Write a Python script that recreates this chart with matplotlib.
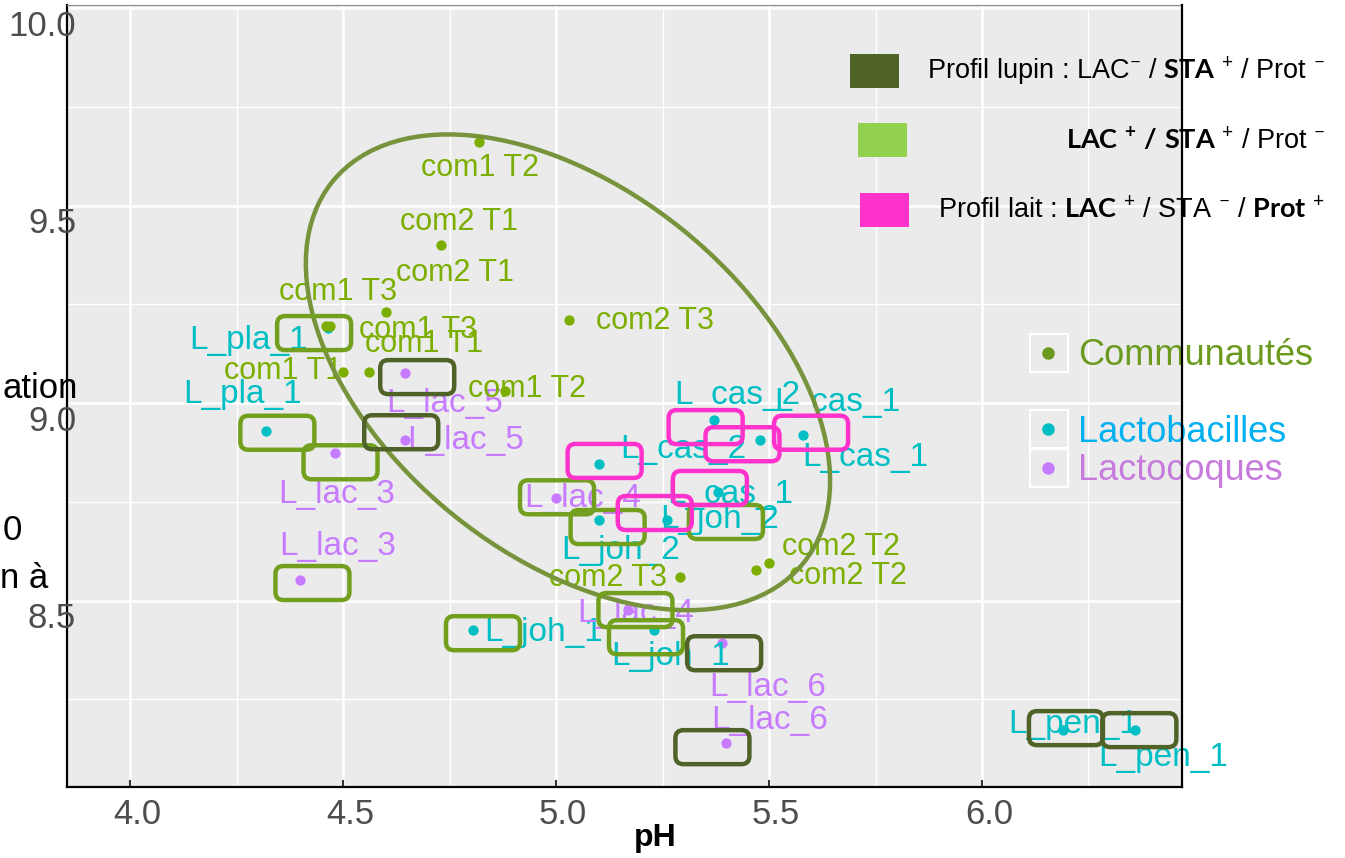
import matplotlib.pyplot as plt
from matplotlib.patches import FancyBboxPatch, Ellipse, Rectangle
from matplotlib.lines import Line2D
from matplotlib.transforms import ScaledTranslation, blended_transform_factory

W, H = 1345, 858

# ---- values ----
com_labels = ['com1 T2', 'com2 T1', 'com2 T1', 'com1 T3', 'com1 T3', 'com1 T1',
              'com1 T1', 'com1 T2', 'com2 T3', 'com2 T3', 'com2 T2', 'com2 T2']
com_ph = [4.82, 4.73, 4.60, 4.47, 4.46, 4.50, 4.56, 4.88, 5.03, 5.29, 5.50, 5.47]
com_y = [9.66, 9.40, 9.23, 9.195, 9.195, 9.08, 9.08, 9.03, 9.21, 8.56, 8.595, 8.577]

lb_labels = ['L_pla_1', 'L_pla_1', 'L_cas_2', 'L_cas_1', 'L_cas_1', 'L_cas_2', 'L_cas_1',
             'L_joh_2', 'L_joh_2', 'L_joh_1', 'L_joh_1', 'L_pen_1', 'L_pen_1']
lb_ph = [4.465, 4.32, 5.37, 5.58, 5.48, 5.10, 5.38, 5.26, 5.10, 4.805, 5.23, 6.19, 6.36]
lb_y = [9.19, 8.93, 8.957, 8.92, 8.906, 8.846, 8.775, 8.704, 8.704, 8.425, 8.425, 8.172, 8.172]

lc_labels = ['L_lac_5', 'L_lac_5', 'L_lac_3', 'L_lac_3', 'L_lac_4', 'L_lac_4', 'L_lac_6', 'L_lac_6']
lc_ph = [4.646, 4.646, 4.48, 4.40, 5.00, 5.17, 5.39, 5.40]
lc_y = [9.076, 8.906, 8.873, 8.552, 8.759, 8.476, 8.392, 8.139]

# profile boxes drawn over the strains: group, index in group, profile
box_group = ['lb', 'lb', 'lc', 'lc', 'lc', 'lb', 'lb', 'lc', 'lb', 'lb',
             'lc', 'lc', 'lc', 'lc', 'lb', 'lb',
             'lb', 'lb', 'lb', 'lb', 'lb', 'lb']
box_idx = [0, 1, 2, 3, 4, 8, 6, 5, 9, 10,
           0, 1, 6, 7, 11, 12,
           2, 4, 3, 5, 6, 7]
box_profile = ['mixte'] * 10 + ['lupin'] * 6 + ['lait'] * 6

prof_names = ['lupin', 'mixte', 'lait']
prof_text = [r'Profil lupin : LAC$^{-}$ / $\mathbf{STA}$ $^{+}$ / Prot $^{-}$',
             r'$\mathbf{LAC}$ $^{\mathbf{+}}$ $\mathbf{/}$ $\mathbf{STA}$ $^{+}$ / Prot $^{-}$',
             r'Profil lait : $\mathbf{LAC}$ $^{+}$ / STA $^{-}$ / $\mathbf{Prot}$ $^{+}$']
group_names = ['Communautés', 'Lactobacilles', 'Lactocoques']

x_ticks = [4.0, 4.5, 5.0, 5.5, 6.0]
y_ticks = [8.5, 9.0, 9.5, 10.0]

# ---- layout / styles ----
c_com, c_lb, c_lc = '#7CAE00', '#00BFC4', '#C77CFF'
box_edge = {'lupin': '#4F6228', 'mixte': '#72A01E', 'lait': '#FF33CC'}
prof_fill = {'lupin': '#4F6228', 'mixte': '#92D050', 'lait': '#FF33CC'}

com_off = [(1, -26), (18, 23), (69, 39), (8, 34), (92, -4), (-60, 1), (55, 28), (22, 2),
           (86, -1), (-72, -1), (72, 16), (92, -6)]
lb_off = [(-80, -12), (-24, 36), (24, 25), (34, 32), (105, -17), (85, 14), (12, -3), (53, 1),
          (22, -30), (71, -2), (17, -26), (10, 6), (28, -27)]
lc_off = [(39, -30), (60, 0), (2, -41), (37, 34), (27, 0), (7, -3), (46, -44), (43, 23)]
box_shift = [(-14, -5), (11, -2), (6, -9), (12, -3), (1, 1), (9, -7), (8, -30), (7, 0), (10, -3), (-8, -7),
             (12, -4), (-4, 8), (2, -10), (-14, -4), (3, 2), (4, 0),
             (-8, -7), (-18, -4), (8, 2), (6, 3), (-8, 4), (-12, 7)]

plt.rcParams['font.family'] = ['Liberation Sans', 'DejaVu Sans']
plt.rcParams['mathtext.fontset'] = 'custom'
plt.rcParams['mathtext.rm'] = 'Lato'
plt.rcParams['mathtext.bf'] = 'Lato:bold'
plt.rcParams['mathtext.it'] = 'Lato:italic'

fig = plt.figure(figsize=(W / 100, H / 100), dpi=100)
ax = fig.add_axes([67 / W, 1 - 787 / H, (1182 - 67) / W, (787 - 5) / H])
ax.set_facecolor('#EBEBEB')
ax.set_xlim(3.852, 6.4695)
ax.set_ylim(8.028, 10.008)

ax.set_xticks(x_ticks)
ax.set_xticks([4.25, 4.75, 5.25, 5.75, 6.25], minor=True)
ax.set_yticks(y_ticks)
ax.set_yticks([8.25, 8.75, 9.25, 9.75], minor=True)
ax.grid(True, which='major', color='white', lw=1.8)
ax.grid(True, which='minor', color='white', lw=1.0)
ax.set_axisbelow(True)
ax.tick_params(axis='x', which='major', direction='in', length=5, width=1.5, color='#333333',
               labelbottom=False)
ax.tick_params(axis='x', which='minor', length=0)
ax.tick_params(axis='y', which='both', length=0, labelleft=False)

for side in ['left', 'bottom', 'right']:
    ax.spines[side].set_color('black')
    ax.spines[side].set_linewidth(1.6)
ax.spines['top'].set_color('#888888')
ax.spines['top'].set_linewidth(0.8)
ax.spines['right'].set_zorder(20)

# tick labels (shifted as in the picture)
ytr = blended_transform_factory(ax.transAxes, ax.transData) + ScaledTranslation(0.09, -0.18, fig.dpi_scale_trans)
for v in y_ticks:
    ax.text(0, v, f'{v:.1f}', transform=ytr, ha='right', va='center', fontsize=25,
            color='#4D4D4D', clip_on=False, zorder=6)
xtr = blended_transform_factory(ax.transData, ax.transAxes) + ScaledTranslation(0.07, -0.27, fig.dpi_scale_trans)
for v in x_ticks:
    ax.text(v, 0, f'{v:.1f}', transform=xtr, ha='center', va='center', fontsize=25,
            color='#4D4D4D', clip_on=False)
fig.text(655 / W, 1 - 838 / H, 'pH', ha='center', va='center', fontsize=23, fontweight='bold')

# points
ax.scatter(lb_ph, lb_y, s=55, color=c_lb, zorder=3, linewidths=0)
ax.scatter(lc_ph, lc_y, s=55, color=c_lc, zorder=3, linewidths=0)
ax.scatter(com_ph, com_y, s=55, color=c_com, zorder=3, linewidths=0)

# repelled labels
for names, xs, ys, offs, col, fs in [(lb_labels, lb_ph, lb_y, lb_off, c_lb, 24),
                                     (lc_labels, lc_ph, lc_y, lc_off, c_lc, 24),
                                     (com_labels, com_ph, com_y, com_off, c_com, 22)]:
    for name, x, y, off in zip(names, xs, ys, offs):
        ax.annotate(name, (x, y), xytext=off, textcoords='offset pixels', ha='center',
                    va='center', color=col, fontsize=fs, zorder=4)

# ellipse around the communities (pixel sizes)
ell = Ellipse((0, 0), 2 * 303, 2 * 183, angle=-39, fill=False, edgecolor='#77933C', lw=3.2,
              transform=ScaledTranslation(5.028, 9.078, ax.transData), zorder=5)
ax.add_patch(ell)

# profile boxes
groups = {'lb': (lb_ph, lb_y), 'lc': (lc_ph, lc_y)}
for g, i, prof, (dx, dy) in zip(box_group, box_idx, box_profile, box_shift):
    gx, gy = groups[g]
    bw, bh = 74, 34
    patch = FancyBboxPatch((dx - bw / 2, dy - bh / 2), bw, bh,
                           boxstyle='round,pad=0,rounding_size=8', fill=False,
                           edgecolor=box_edge[prof], lw=3.2,
                           transform=ScaledTranslation(gx[i], gy[i], ax.transData), zorder=6)
    ax.add_patch(patch)

# profile legend (top right)
sq_x = [850, 858, 860]
sq_y = [54, 123, 193]
txt_y = [72, 141, 211]
for prof, txt, x0, y0, ty in zip(prof_names, prof_text, sq_x, sq_y, txt_y):
    ax.add_patch(Rectangle((x0 / W, 1 - (y0 + 34) / H), 49 / W, 34 / H, transform=fig.transFigure,
                           facecolor=prof_fill[prof], edgecolor='none', clip_on=False, zorder=7))
    ax.text(1325 / W, 1 - ty / H, txt, transform=fig.transFigure, ha='right', va='center',
            fontsize=19.5, color='black', clip_on=False, zorder=7)

# group legend
key_y = [353, 429, 468]
key_dot = ['#6B9A1F', c_lb, c_lc]
key_txt = ['#6B9A1F', '#00B0F0', '#C77CDD']
for name, ky, dc, tc in zip(group_names, key_y, key_dot, key_txt):
    ax.add_patch(Rectangle((1030 / W, 1 - (ky + 19) / H), 38 / W, 38 / H, transform=fig.transFigure,
                           facecolor='#EBEBEB', edgecolor='white', lw=1.5, clip_on=False, zorder=7))
    ax.add_line(Line2D([1048 / W], [1 - ky / H], marker='o', markersize=8, color=dc,
                       transform=fig.transFigure, clip_on=False, zorder=8))
    ax.text(1078 / W, 1 - (ky + 3) / H, name, transform=fig.transFigure, ha='left', va='center',
            fontsize=26, color=tc, clip_on=False, zorder=7)

# cut-off pieces of the y axis title
for frag, fx, fy in [('ation', 78, 388), ('0', 22, 530), ('n à', 48, 578)]:
    fig.text(fx / W, 1 - fy / H, frag, ha='right', va='center', fontsize=25, color='black')

fig.savefig('out.png', dpi=100)
